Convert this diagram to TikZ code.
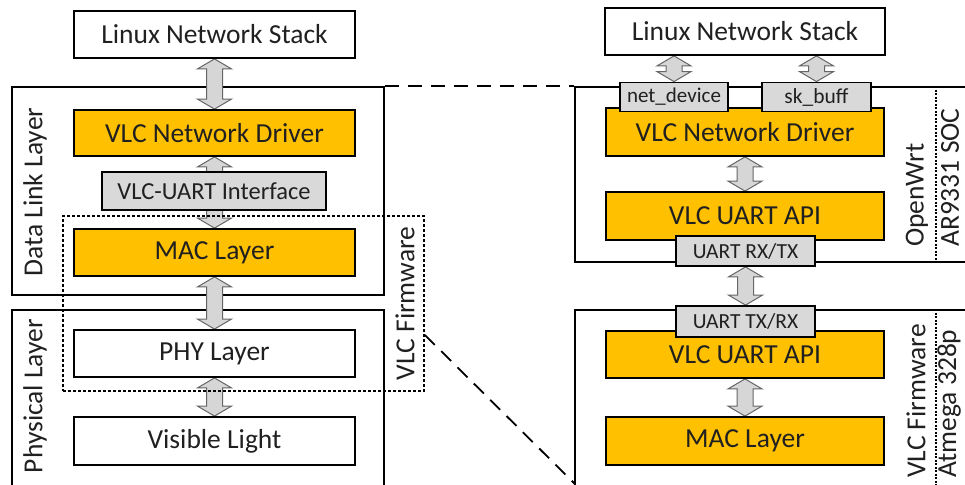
\documentclass[tikz,border=0pt]{standalone}
\usepackage{fontspec}
\setmainfont{Carlito}
\usetikzlibrary{calc}
\pgfdeclarelayer{back}
\pgfsetlayers{back,main}
\definecolor{vlcorange}{HTML}{FFC000}
\definecolor{labelgray}{HTML}{D9D9D9}
\definecolor{arrowgray}{HTML}{D6D6D6}
\definecolor{textdark}{HTML}{202020}
% block arrow with a head at both ends, from #1 (top) to #2 (bottom)
\newcommand{\dblarrow}[2]{%
  \draw[updown] (#1) -- ++(17,10) -- ++(-9,0) -- ($(#2)+(8,-10)$) -- ++(9,0)
    -- (#2) -- ++(-17,-10) -- ++(9,0) -- ($(#1)+(-8,10)$) -- ++(-9,0) -- cycle;}
\begin{document}
\begin{tikzpicture}[x=1pt,y=-1pt,
    box/.style={draw, line width=1.8pt, minimum width=281pt, minimum height=47pt,
      inner sep=0pt, text=textdark, font=\fontsize{27.5}{31}\selectfont},
    drv/.style={box, fill=vlcorange},
    plain/.style={box, fill=white},
    tag/.style={draw, line width=1.8pt, fill=labelgray, inner sep=0pt,
      minimum height=29pt, text=textdark, font=\fontsize{21.5}{24}\selectfont},
    frame/.style={draw, line width=1.8pt, inner sep=0pt},
    dotbox/.style={draw, line width=1.8pt, dash pattern=on 3pt off 2pt, inner sep=0pt},
    side/.style={rotate=90, inner sep=0pt, text=textdark, font=\fontsize{27.5}{31}\selectfont},
    updown/.style={draw=black!60, fill=arrowgray, line width=1pt, line join=miter},
    zoomline/.style={line width=1.8pt, dash pattern=on 14pt off 9pt}]
    \useasboundingbox (0,0) rectangle (965,484);
    \clip (0,0) rectangle (965,484);

    % left: layer view
    \node[plain] (stackL) at (214.5,34.5) {Linux Network Stack};
    \node[drv, minimum height=46pt] (drvL) at (214.5,133) {VLC Network Driver};
    \node[tag, minimum width=224pt, minimum height=38pt,
      font=\fontsize{24.5}{27}\selectfont] (uart) at (214,191) {VLC-UART Interface};
    \node[drv] (macL) at (214.5,252.5) {MAC Layer};
    \node[plain] (phy) at (214.5,353.5) {PHY Layer};
    \node[plain, minimum height=48pt] (light) at (214.5,441) {Visible Light};
    \node[dotbox, minimum width=361pt, minimum height=175pt] (fwL) at (243.5,303.5) {};

    % left: side labels
    \node[side] at (35,192) {Data Link Layer};
    \node[side] at (35,396) {Physical Layer};
    \node[side] at (405,303.5) {VLC Firmware};

    % right: hardware view
    \node[plain, minimum width=280pt] (stackR) at (745,31.5) {Linux Network Stack};
    \node[drv, minimum width=278pt, minimum height=48pt] (drvR) at (745,132) {VLC Network Driver};
    \node[tag, minimum width=108pt, font=\fontsize{21}{24}\selectfont] (netdev) at (674,97) {net\_device};
    \node[tag, minimum width=109pt] (skbuff) at (816.5,97) {sk\_buff};
    \node[drv, minimum width=278pt, minimum height=48pt] (apiR) at (745,216) {VLC UART API};
    \node[tag, minimum width=139pt, minimum height=30pt] (rxtx) at (745.5,251) {UART RX/TX};
    \node[drv, minimum width=278pt] (apiM) at (745,354.5) {VLC UART API};
    \node[tag, minimum width=139pt, minimum height=31pt] (txrx) at (745.5,321.5) {UART TX/RX};
    \node[drv, minimum width=278pt, minimum height=48pt] (macR) at (745,441) {MAC Layer};

    % frames and arrows behind the boxes
    \begin{pgfonlayer}{back}
      \node[frame, minimum width=372pt, minimum height=208pt] (dll) at (198,191) {};
      \node[frame, minimum width=372pt, minimum height=184pt] (phys) at (198,402) {};
      \node[frame, minimum width=400pt, minimum height=175pt] (soc) at (775,174.5) {};
      \node[frame, minimum width=400pt, minimum height=184pt] (mcu) at (775,402) {};
      \dblarrow{stackL.south}{drvL.north}
      \dblarrow{drvL.south}{macL.north}
      \dblarrow{macL.south}{phy.north}
      \dblarrow{phy.south}{light.north}
      \dblarrow{stackR.south -| netdev.north}{netdev.north}
      \dblarrow{stackR.south -| skbuff.north}{skbuff.north}
      \dblarrow{drvR.south}{apiR.north}
      \dblarrow{rxtx.south}{txrx.north}
      \dblarrow{apiM.south}{macR.north}
    \end{pgfonlayer}

    % right: dotted dividers and side labels
    \draw[line width=1.2pt, dash pattern=on 2pt off 1.5pt]
      ($(soc.north east)+(-40,0)$) -- ($(soc.south east)+(-40,0)$);
    \draw[line width=1.2pt, dash pattern=on 2pt off 1.5pt]
      ($(mcu.north east)+(-40,0)$) -- ($(mcu.south east)+(-40,0)$);
    \node[side, anchor=west] at (917,247) {OpenWrt};
    \node[side, anchor=west] at (950,247) {AR9331 SOC};
    \node[side, anchor=west] at (916,478) {VLC Firmware};
    \node[side, anchor=west] at (949,478) {Atmega 328p};

    % zoom lines
    \coordinate (zoomend) at (575,484);
    \draw[zoomline] (dll.north east) -- (soc.north west);
    \draw[zoomline] ($(fwL.east)+(0,31.5)$) -- (zoomend);
\end{tikzpicture}
\end{document}
